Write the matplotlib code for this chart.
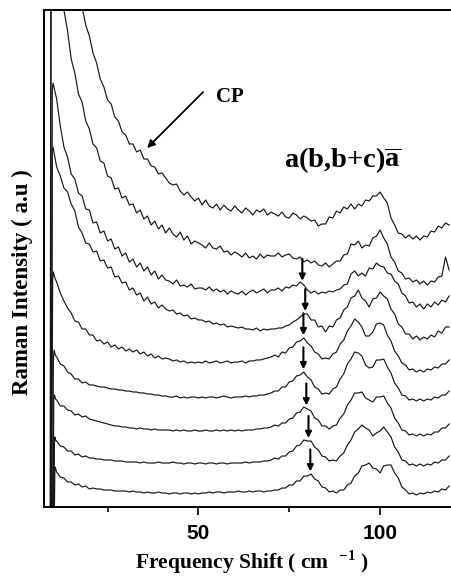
import matplotlib
matplotlib.use("Agg")
import matplotlib.pyplot as plt
import numpy as np

plt.rcParams['mathtext.fontset'] = 'custom'
plt.rcParams['mathtext.rm'] = 'Liberation Serif:bold'
plt.rcParams['mathtext.bf'] = 'Liberation Serif:bold'

# ---- data: stacked Raman spectra, a(b,b+c)a geometry ----
# common frequency-shift grid (cm^-1) and per-spectrum start (laser edge)
shift = list(range(11, 120))

c1_head_x = [9.2, 9.5]
c1_head_y = [-60, 900]
c1_y = [850, 800, 760, 720, 660, 600, 540, 500, 482, 471,
        454, 444, 428, 420, 407, 403, 390, 386, 375, 372,
        363, 363, 355, 357, 348, 348, 341, 340, 333, 334,
        329, 324, 322, 323, 316, 312, 315, 310, 306, 309,
        302, 307, 301, 299, 303, 297, 302, 298, 296, 301,
        297, 294, 299, 296, 292, 297, 295, 298, 292, 295,
        293, 291, 295, 290, 289, 294, 292, 288, 291, 289,
        286, 287, 281, 283, 283, 290, 289, 296, 294, 300,
        298, 303, 298, 303, 301, 307, 306, 311, 311, 315,
        309, 304, 289, 282, 274, 273, 269, 272, 268, 271,
        267, 271, 270, 276, 275, 281, 279, 284, 282]

c2_head_x = [9.3, 9.6]
c2_head_y = [-60, 900]
c2_y = [600, 545, 497, 476, 448, 434, 413, 405, 386, 378,
        363, 359, 346, 344, 331, 329, 318, 319, 309, 311,
        302, 303, 294, 297, 288, 291, 282, 286, 278, 282,
        274, 279, 273, 270, 275, 267, 271, 263, 266, 264,
        262, 259, 264, 259, 258, 261, 255, 256, 252, 255,
        253, 250, 254, 249, 251, 248, 253, 249, 252, 251,
        251, 254, 250, 252, 253, 249, 248, 250, 245, 247,
        244, 246, 242, 241, 244, 240, 243, 246, 246, 252,
        253, 263, 262, 266, 259, 262, 261, 269, 271, 277,
        269, 263, 250, 245, 236, 234, 228, 229, 225, 227,
        223, 226, 222, 226, 225, 230, 231, 250, 237]

c3_head_x = [9.5, 9.8, 10.0, 10.5]
c3_head_y = [-60, 417, 424, 416]
c3_y = [408, 381, 360, 350, 333, 328, 314, 311, 298, 297,
        284, 285, 274, 276, 266, 268, 258, 260, 251, 254,
        245, 248, 240, 244, 236, 240, 232, 236, 228, 232,
        227, 226, 223, 227, 221, 222, 220, 223, 218, 219,
        219, 217, 220, 216, 218, 215, 217, 213, 216, 214,
        213, 216, 212, 215, 217, 214, 216, 218, 214, 217,
        217, 219, 216, 220, 219, 222, 221, 225, 222, 217,
        214, 216, 213, 215, 214, 216, 215, 217, 218, 222,
        223, 233, 236, 231, 234, 231, 239, 238, 244, 241,
        240, 234, 233, 226, 223, 214, 211, 204, 205, 200,
        203, 198, 203, 200, 205, 202, 207, 205, 211]

c4_head_x = [9.5, 9.8, 10.0, 10.5]
c4_head_y = [-60, 357, 360, 350]
c4_y = [340, 331, 319, 315, 303, 296, 280, 274, 264, 263,
        255, 256, 246, 247, 239, 240, 230, 231, 224, 225,
        217, 219, 212, 214, 206, 210, 203, 205, 199, 202,
        198, 196, 197, 193, 194, 191, 192, 188, 189, 187,
        187, 185, 186, 183, 184, 182, 183, 180, 181, 180,
        179, 180, 178, 178, 177, 179, 176, 178, 177, 178,
        178, 179, 179, 181, 182, 185, 187, 190, 193, 193,
        187, 187, 180, 181, 175, 181, 180, 187, 189, 197,
        200, 209, 211, 217, 209, 206, 200, 208, 209, 215,
        211, 208, 198, 193, 183, 180, 173, 173, 168, 171,
        167, 170, 168, 172, 170, 176, 174, 180, 180]

c5_head_x = [9.5, 9.9, 10.1, 10.5]
c5_head_y = [-60, 228, 235, 229]
c5_y = [225, 214, 206, 199, 194, 186, 185, 178, 178, 172,
        172, 166, 167, 163, 165, 160, 162, 158, 160, 156,
        158, 155, 157, 153, 155, 151, 153, 149, 151, 148,
        149, 148, 146, 147, 145, 146, 144, 145, 144, 145,
        144, 146, 144, 145, 146, 144, 145, 146, 144, 145,
        145, 146, 144, 146, 146, 147, 147, 148, 149, 150,
        152, 150, 155, 154, 159, 160, 165, 166, 169, 164,
        161, 155, 153, 148, 149, 148, 153, 155, 163, 167,
        176, 181, 188, 185, 180, 171, 171, 175, 183, 184,
        182, 172, 166, 156, 151, 144, 142, 137, 138, 135,
        137, 135, 138, 137, 140, 139, 143, 143, 147]

c6_head_x = [9.8, 10.1, 10.3, 10.6]
c6_head_y = [-60, 147, 157, 152]
c6_y = [150, 143, 141, 135, 133, 128, 128, 124, 125, 122,
        122, 121, 120, 120, 119, 118, 118, 117, 117, 116,
        116, 115, 115, 114, 114, 113, 113, 112, 112, 111,
        111, 110, 110, 111, 109, 110, 109, 110, 110, 109,
        110, 109, 110, 110, 109, 110, 111, 110, 109, 110,
        110, 110, 111, 110, 111, 111, 112, 112, 113, 114,
        116, 116, 120, 120, 125, 126, 131, 132, 135, 130,
        127, 120, 118, 113, 114, 113, 118, 120, 128, 133,
        143, 148, 155, 154, 151, 142, 139, 140, 147, 147,
        148, 140, 134, 124, 119, 112, 111, 107, 108, 106,
        108, 106, 108, 107, 110, 109, 112, 112, 116]

c7_head_x = [10.0, 10.2, 10.4, 10.7]
c7_head_y = [-60, 107, 112, 108]
c7_y = [107, 101, 101, 97, 96, 92, 93, 90, 91, 88,
        87, 86, 85, 84, 83, 82, 81, 81, 80, 80,
        79, 79, 78, 79, 78, 78, 77, 78, 77, 77,
        77, 77, 76, 77, 76, 77, 76, 76, 77, 76,
        76, 77, 76, 76, 77, 76, 77, 76, 77, 76,
        77, 76, 77, 77, 77, 78, 78, 79, 79, 80,
        82, 81, 84, 84, 88, 89, 94, 95, 100, 98,
        96, 89, 87, 81, 81, 78, 81, 82, 89, 93,
        102, 107, 114, 114, 115, 109, 107, 105, 110, 110,
        111, 104, 99, 89, 84, 77, 76, 72, 73, 71,
        73, 71, 73, 72, 75, 75, 79, 79, 83]

c8_head_x = [10.1, 10.4, 10.5, 10.8]
c8_head_y = [-60, 67, 70, 66]
c8_y = [66, 61, 60, 56, 56, 52, 53, 50, 51, 49,
        49, 48, 48, 47, 47, 47, 46, 46, 46, 45,
        45, 45, 45, 44, 45, 44, 44, 44, 45, 44,
        44, 44, 45, 44, 44, 43, 44, 44, 43, 44,
        44, 43, 44, 44, 43, 44, 44, 43, 44, 44,
        44, 44, 45, 44, 45, 45, 45, 46, 46, 47,
        49, 48, 51, 51, 55, 56, 61, 62, 67, 66,
        66, 60, 57, 51, 50, 46, 47, 46, 51, 54,
        62, 67, 75, 78, 82, 79, 77, 71, 74, 76,
        80, 75, 70, 60, 55, 47, 46, 42, 43, 41,
        43, 41, 43, 42, 45, 44, 47, 47, 51]

c9_head_x = [10.2, 10.5, 10.6, 10.9]
c9_head_y = [-60, 37, 40, 36]
c9_y = [35, 30, 29, 25, 25, 22, 23, 20, 21, 18,
        19, 18, 18, 17, 17, 17, 16, 16, 16, 16,
        15, 16, 15, 15, 14, 15, 14, 14, 15, 14,
        14, 13, 14, 14, 13, 14, 14, 13, 14, 13,
        14, 14, 15, 14, 15, 15, 14, 15, 15, 15,
        16, 15, 15, 16, 15, 16, 16, 15, 16, 16,
        17, 17, 19, 19, 22, 22, 26, 26, 31, 31,
        33, 28, 26, 20, 19, 15, 16, 14, 17, 17,
        22, 24, 31, 34, 41, 42, 44, 39, 38, 34,
        41, 42, 42, 34, 29, 20, 17, 13, 14, 12,
        14, 13, 15, 14, 16, 15, 18, 17, 21]

heads_x = [c1_head_x, c2_head_x, c3_head_x, c4_head_x, c5_head_x,
           c6_head_x, c7_head_x, c8_head_x, c9_head_x]
heads_y = [c1_head_y, c2_head_y, c3_head_y, c4_head_y, c5_head_y,
           c6_head_y, c7_head_y, c8_head_y, c9_head_y]
bodies_y = [c1_y, c2_y, c3_y, c4_y, c5_y, c6_y, c7_y, c8_y, c9_y]

# soft-mode positions marked by arrows (spectra 3..9)
mode_pos = [78.6, 79.4, 78.9, 78.9, 79.7, 80.3, 80.8]
cp_pos = 35.9

xticks_major = [50, 100]
xticks_minor = [25, 75]

# ---- figure ----
W, H = 451, 578
fig = plt.figure(figsize=(W / 100, H / 100), dpi=100)
ax = fig.add_axes([44.3 / W, 1 - 507 / H, (455 - 44.3) / W, 497 / H])

spectra = []
for hx, hy, by in zip(heads_x, heads_y, bodies_y):
    assert len(by) == len(shift)
    xs = list(hx) + shift
    ys = list(hy) + by
    spectra.append((xs, ys))
    ax.plot(xs, ys, color='#151515', lw=0.85, solid_joinstyle='round')

ax.set_xlim(7.6, 7.6 + (455 - 44.3) / 3.634)
ax.set_ylim(0, 497)

# arrows for the soft mode
for i, xp in enumerate(mode_pos):
    xs, ys = spectra[i + 2]
    yv = np.interp(xp, xs, ys)
    ax.annotate('', xy=(xp, yv + 3), xytext=(xp, yv + 25),
                arrowprops=dict(arrowstyle='-|>', color='black', lw=1.5,
                                mutation_scale=9, shrinkA=0, shrinkB=0))

# CP arrow
xs1, ys1 = spectra[0]
ycp = np.interp(cp_pos, xs1, ys1)
ax.annotate('', xy=(cp_pos, ycp + 11), xytext=(51.3, 415),
            arrowprops=dict(arrowstyle='-|>', color='black', lw=1.3,
                            mutation_scale=11, shrinkA=0, shrinkB=0))
ax.text(58.7, 410, 'CP', fontfamily='Liberation Serif', fontweight='bold',
        fontsize=15, ha='center', va='center')
ax.text(89.8, 347, r'a(b,b+c)$\overline{\mathrm{a}}$', fontfamily='Liberation Serif',
        fontweight='bold', fontsize=20.5, ha='center', va='center')

ax.spines['right'].set_visible(False)
for s in ['left', 'bottom', 'top']:
    ax.spines[s].set_linewidth(1.4)
ax.set_yticks([])
ax.set_xticks(xticks_major)
ax.set_xticks(xticks_minor, minor=True)
ax.tick_params(axis='x', which='major', direction='out', length=5.8, width=1.2, pad=6.5)
ax.tick_params(axis='x', which='minor', direction='out', length=3.8, width=1.2)
for lab in ax.get_xticklabels():
    lab.set_fontfamily('Liberation Sans')
    lab.set_fontweight('bold')
    lab.set_fontsize(15)

ax.set_xlabel(r'Frequency Shift ( cm  $^{\mathbf{-1}}$ )', fontfamily='Liberation Serif',
              fontweight='bold', fontsize=15.5)
ax.xaxis.set_label_coords(0.506, -0.083)
ax.set_ylabel('Raman Intensity ( a.u )', fontfamily='Liberation Serif',
              fontweight='bold', fontsize=16.5)
ax.yaxis.set_label_coords(-0.054, 0.453)
ax.yaxis.label.set_va('center')

fig.savefig('out.png', dpi=100)
